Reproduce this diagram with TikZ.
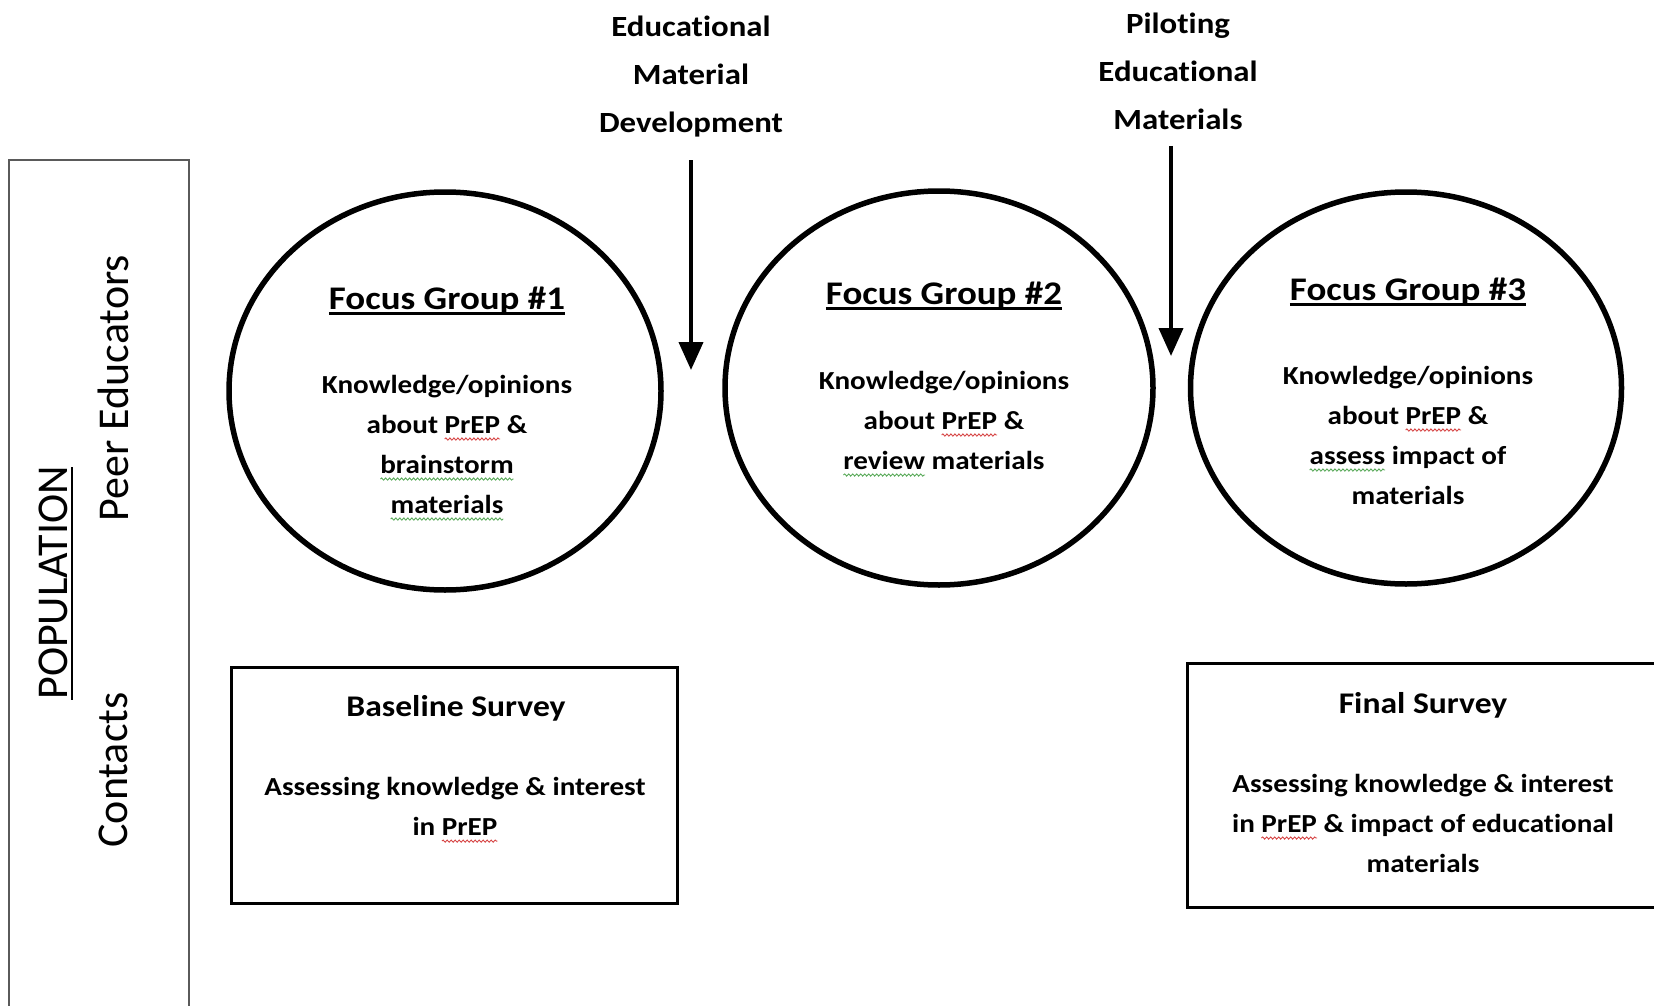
\documentclass[tikz,border=0pt]{standalone}
\usepackage{fontspec}
\setmainfont[FakeStretch=1.12,Ligatures=NoCommon]{Carlito}
\newfontfamily\sidefont{Carlito}
\usetikzlibrary{shapes.geometric,arrows.meta,decorations.pathmorphing}

\definecolor{spellred}{RGB}{214,70,70}
\definecolor{spellgreen}{RGB}{90,170,90}
\definecolor{barline}{RGB}{90,90,90}

% thick underline for headings
\newcommand\headul[1]{\setbox0=\hbox{#1}\rlap{\rule[-5pt]{\wd0}{2.6pt}}\box0\relax}
% wavy proofing underline under a word
\newcommand\squig[2]{\setbox0=\hbox{#2}\rlap{\tikz[overlay]\draw[#1,line width=0.9pt,decorate,decoration={snake,amplitude=1.1pt,segment length=4pt}] (0pt,-6pt) -- (\wd0,-6pt);}\box0\relax}

\tikzset{
  phase/.style={ellipse,draw,line width=5.5pt,inner sep=0pt},
  survey/.style={rectangle,draw,line width=3pt,inner sep=0pt},
  heading/.style={font=\fontsize{33}{40}\selectfont\bfseries,align=center,inner sep=0pt},
  bodytext/.style={font=\fontsize{26}{40}\selectfont\bfseries,align=center,inner sep=0pt},
  boxtitle/.style={font=\fontsize{30}{40}\selectfont\bfseries,align=center,inner sep=0pt},
  steplabel/.style={font=\fontsize{29.3}{48}\selectfont\bfseries,align=center,inner sep=0pt},
  sidelabel/.style={font=\sidefont\fontsize{44}{50}\selectfont,rotate=90,inner sep=0pt},
  flow/.style={line width=4pt,-{Triangle[length=28pt,width=24pt]}},
}

\begin{document}
\begin{tikzpicture}[x=1pt,y=-1pt]
\useasboundingbox (0,0) rectangle (1654,1006);

% population bar on the left (open at the bottom)
\draw[barline,line width=2pt] (9,1010) -- (9,160) -- (189,160) -- (189,1010);
\node[sidelabel] (pop) at (53,583) {POPULATION};
\draw[line width=2.2pt] (72,467) -- (72,700);
\node[sidelabel] (peer) at (113,388) {Peer Educators};
\node[sidelabel] (cont) at (113,770) {Contacts};

% focus groups
\node[phase,minimum width=432pt,minimum height=398pt] (fg1) at (445,391) {};
\node[phase,minimum width=428pt,minimum height=394pt] (fg2) at (939,388) {};
\node[phase,minimum width=431pt,minimum height=392pt] (fg3) at (1406,388) {};

\node[heading] (fg1t) at (447,301) {\headul{Focus Group \#1}};
\node[bodytext] (fg1b) at (447,444) {Knowledge/opinions\\about \squig{spellred}{PrEP} \&\\\squig{spellgreen}{brainstorm}\\\squig{spellgreen}{materials}};

\node[heading] (fg2t) at (944,296) {\headul{Focus Group \#2}};
\node[bodytext] (fg2b) at (944,420) {Knowledge/opinions\\about \squig{spellred}{PrEP} \&\\\squig{spellgreen}{review} materials};

\node[heading] (fg3t) at (1408,292) {\headul{Focus Group \#3}};
\node[bodytext] (fg3b) at (1408,435) {Knowledge/opinions\\about \squig{spellred}{PrEP} \&\\\squig{spellgreen}{assess} impact of\\materials};

% steps between the focus groups
\node[steplabel] (dev) at (691,77) {Educational\\Material\\Development};
\coordinate (dev0) at (691,160);
\coordinate (dev1) at (691,370);
\draw[flow] (dev0) -- (dev1);

\node[steplabel] (pilot) at (1178,71) {Piloting\\Educational\\Materials};
\coordinate (pilot0) at (1171,146);
\coordinate (pilot1) at (1171,356);
\draw[flow] (pilot0) -- (pilot1);

% surveys of the contacts
\node[survey,minimum width=446pt,minimum height=236pt] (base) at (454,785) {};
\node[boxtitle] (baset) at (456,708) {Baseline Survey};
\node[bodytext] (baseb) at (455,806) {Assessing knowledge \& interest\\in \squig{spellred}{PrEP}};

\node[survey,minimum width=480pt,minimum height=244pt] (final) at (1427,785) {};
\node[boxtitle] (finalt) at (1423,705) {Final Survey};
\node[bodytext] (finalb) at (1423,823) {Assessing knowledge \& interest\\in \squig{spellred}{PrEP} \& impact of educational\\materials};
\end{tikzpicture}
\end{document}
